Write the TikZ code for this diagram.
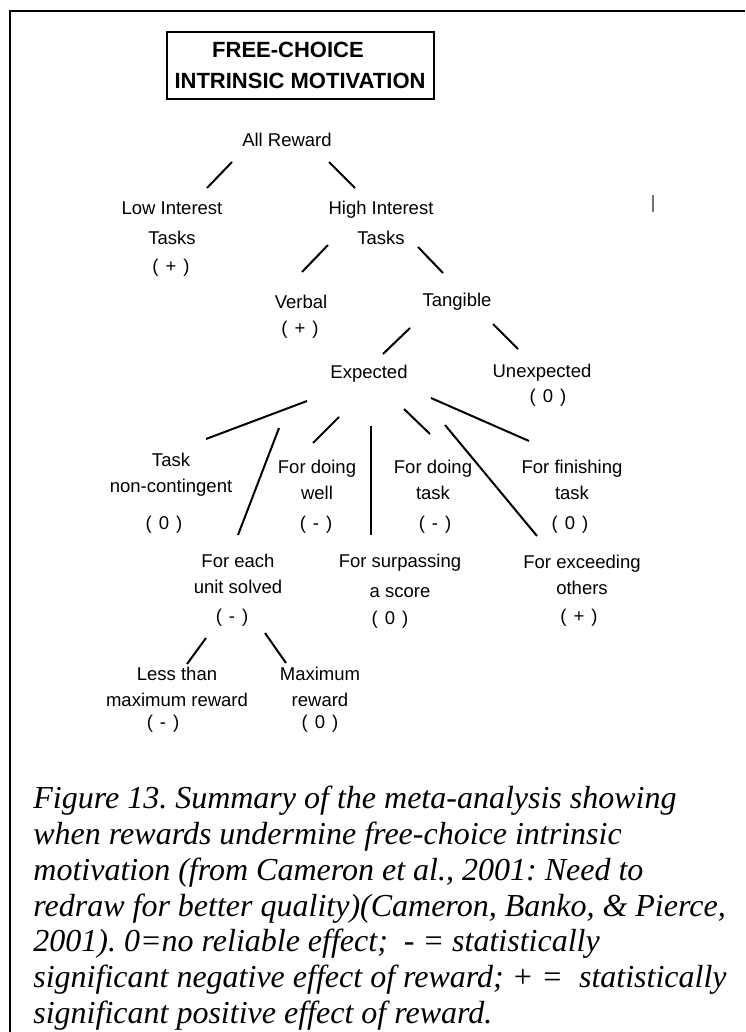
\documentclass[tikz,border=0pt]{standalone}
\usepackage{fontspec}
\setmainfont{Liberation Serif}
\setsansfont{Liberation Sans}
\usetikzlibrary{positioning, calc}
\frenchspacing
\newcommand{\eff}[1]{(\kern3.5pt#1\kern3.5pt)}
\tikzset{
  lbl/.style={font=\sffamily\fontsize{9.25}{13}\selectfont, align=center, inner sep=0pt},
  sgn/.style={font=\sffamily\fontsize{9.25}{11}\selectfont, inner sep=0pt},
  ttl/.style={draw, line width=1pt, font=\sffamily\bfseries\fontsize{11}{15.5}\selectfont,
              align=center, minimum width=133.5pt, minimum height=33.5pt, inner sep=0pt},
  edge/.style={draw=black, line width=1pt},
  frm/.style={draw=black, line width=1.2pt},
  captxt/.style={font=\itshape\fontsize{16}{17.85}\selectfont, align=left, inner sep=0pt},
}
\begin{document}
\begin{tikzpicture}[x=0.5pt, y=-0.5pt]
  \useasboundingbox (0,0) rectangle (745,1032);
  \draw[frm] (745,11) -- (10,11) -- (10,1032);
  \node[ttl] (title) at (300,65.5) {FREE-CHOICE\kern12pt\\INTRINSIC MOTIVATION};
  \node[lbl] (allrew) at (287,140) {All Reward};
  \node[lbl] (lowint) at (172,223) {Low Interest\\[2pt]Tasks};
  \node[sgn] (lowsgn) at (171,268) {\eff{+}};
  \node[lbl] (highint) at (381,223) {High Interest\\[2pt]Tasks};
  \node[lbl] (verbal) at (301,302) {Verbal};
  \node[sgn] (verbsgn) at (300,330) {\eff{+}};
  \node[lbl] (tangib) at (457,302) {Tangible};
  \node[lbl] (expect) at (369,374) {Expected};
  \node[lbl] (unexp) at (542,373) {Unexpected};
  \node[sgn] (unexsgn) at (548,398) {\eff{0}};
  \node[lbl] (noncont) at (171,475) {Task\\non-contingent};
  \node[sgn] (noncsgn) at (164,525) {\eff{0}};
  \node[lbl] (dowell) at (317,480) {For doing\\well};
  \node[sgn] (dowsgn) at (316,525) {\eff{-}};
  \node[lbl] (dotask) at (433,480) {For doing\\task};
  \node[sgn] (dotsgn) at (435,525) {\eff{-}};
  \node[lbl] (finish) at (572,480) {For finishing\\task};
  \node[sgn] (finsgn) at (570,525) {\eff{0}};
  \node[lbl] (eachunit) at (238,574) {For each\\unit solved};
  \node[sgn] (eachsgn) at (232,618) {\eff{-}};
  \node[lbl] (surpass) at (400,576) {For surpassing\\[2pt]a score};
  \node[sgn] (sursgn) at (390,620) {\eff{0}};
  \node[lbl] (exceed) at (582,575) {For exceeding\\others};
  \node[sgn] (excsgn) at (579,618) {\eff{+}};
  \node[lbl] (lessmax) at (177,687) {Less than\\maximum reward};
  \node[sgn] (lesssgn) at (163,724) {\eff{-}};
  \node[lbl] (maxrew) at (320,687) {Maximum\\reward};
  \node[sgn] (maxsgn) at (320,724) {\eff{0}};
  \draw[edge] ($(allrew)+(-55,22)$) -- ($(lowint)+(35,-35)$);
  \draw[edge] ($(allrew)+(42,22)$) -- ($(highint)+(-26,-35)$);
  \draw[edge] ($(highint)+(-53,22)$) -- ($(verbal)+(1,-30)$);
  \draw[edge] ($(highint)+(37,24)$) -- ($(tangib)+(-14,-29)$);
  \draw[edge] ($(tangib)+(-47,26)$) -- ($(expect)+(14,-20)$);
  \draw[edge] ($(tangib)+(36,22)$) -- ($(unexp)+(-24,-24)$);
  \draw[edge] ($(expect)+(-62,27)$) -- ($(noncont)+(35,-36)$);
  \draw[edge] ($(expect)+(-90,54)$) -- ($(eachunit)+(0,-39)$);
  \draw[edge] ($(expect)+(-30,43)$) -- ($(dowell)+(-4,-37)$);
  \draw[edge] ($(expect)+(2,52)$) -- ($(surpass)+(-29,-41)$);
  \draw[edge] ($(expect)+(35,35)$) -- ($(dotask)+(-3,-46)$);
  \draw[edge] ($(expect)+(76,51)$) -- ($(exceed)+(-45,-39)$);
  \draw[edge] ($(expect)+(62,24)$) -- ($(finish)+(-43,-39)$);
  \draw[edge] ($(eachunit)+(-32,64)$) -- ($(lessmax)+(10,-23)$);
  \draw[edge] ($(eachunit)+(27,59)$) -- ($(maxrew)+(-34,-24)$);
  \draw[line width=1.2pt, black!55] (653,195) -- (653,212);
  \node[captxt, anchor=north west] (capt) at (33,786) {Figure 13. Summary of the meta-analysis showing\\
    when rewards undermine free-choice intrinsic\\
    motivation (from Cameron et al., 2001: Need to\\
    redraw for better quality)(Cameron, Banko, \& Pierce,\\
    2001). 0=no reliable effect; \ - = statistically\\
    significant negative effect of reward; + = \ statistically\\
    significant positive effect of reward.};
\end{tikzpicture}
\end{document}
